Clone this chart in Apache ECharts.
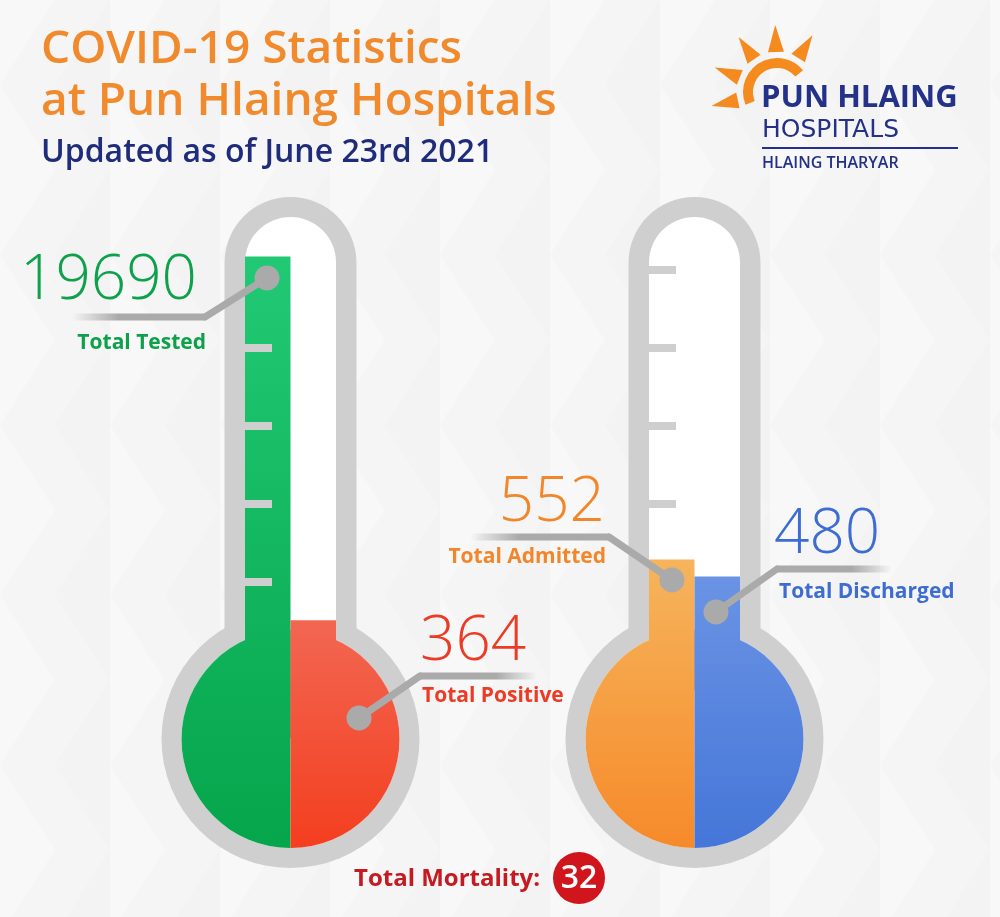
<!DOCTYPE html>
<html>
<meta charset="UTF-8">
<title>covid-thermometers</title>
<style type="text/css">
    html,
    body {
        margin: 0px;
        height: 100%;
        width: 100%;
        background: #f5f5f5;
    }

    #chart {
        width: 1000px;
        height: 917px;
    }
</style>
<script src="https://cdn.jsdelivr.net/npm/echarts@6/dist/echarts.min.js"></script>

<body>
    <div id="chart"></div>
    <script>
        // data
        const testCategories = ['Total Tested', 'Total Positive'];
        const testValues = [19690, 364];
        const wardCategories = ['Total Admitted', 'Total Discharged'];
        const wardValues = [552, 480];
        const mortalityLabel = 'Total Mortality:';
        const mortalityValue = 32;
        // gauge marks on the tubes (levels of the mark axis, 0..7)
        const tickLevelsTests = [2, 3, 4, 5];
        const tickLevelsWards = [3, 4, 5, 6];

        // layout + style
        const WALL = '#cfcfcf';
        const LEAD = '#aaaaaa';
        const FONT = 'Open Sans';
        const centers = [290.5, 694.5];
        const BULB_Y = 739;
        const palette = [
            [['#22c974', '#05a54b'], ['#f26752', '#f43e1f']],
            [['#f6b45c', '#f68a2a'], ['#6a93e4', '#4576d8']]
        ];
        const textColors = [['#0ea14c', '#ec3b25'], ['#f2862a', '#3d6dd3']];

        function vgrad(top, bottom, c) {
            return new echarts.graphic.LinearGradient(0, top, 0, bottom, [
                { offset: 0, color: c[0] },
                { offset: 1, color: c[1] }
            ], true);
        }

        const fills = [
            [vgrad(255, 848, palette[0][0]), vgrad(620, 848, palette[0][1])],
            [vgrad(560, 848, palette[1][0]), vgrad(577, 848, palette[1][1])]
        ];

        // faint chevron backdrop
        function backdrop() {
            const els = [];
            for (let x = 0; x < 1000; x += 110) {
                for (let y = -85; y < 917; y += 170) {
                    els.push({
                        type: 'polygon', z: -10, silent: true,
                        shape: { points: [[x, y], [x + 55, y + 85], [x, y + 170]] },
                        style: { fill: '#f8f8f8' }
                    });
                    els.push({
                        type: 'polygon', z: -10, silent: true,
                        shape: { points: [[x + 110, y + 85], [x + 55, y + 170], [x + 110, y + 255]] },
                        style: { fill: '#f3f3f3' }
                    });
                }
            }
            return els;
        }

        function body(cx, i) {
            return [
                { type: 'rect', z: 0, silent: true, shape: { x: cx - 66, y: 197, width: 132, height: BULB_Y - 197, r: [66, 66, 0, 0] }, style: { fill: WALL } },
                { type: 'circle', z: 0, silent: true, shape: { cx: cx, cy: BULB_Y, r: 129 }, style: { fill: WALL } },
                { type: 'rect', z: 1, silent: true, shape: { x: cx - 45.5, y: 217, width: 91, height: BULB_Y - 217, r: [45.5, 45.5, 0, 0] }, style: { fill: '#ffffff' } },
                { type: 'circle', z: 1, silent: true, shape: { cx: cx, cy: BULB_Y, r: 109 }, style: { fill: '#ffffff' } },
                { type: 'sector', z: 3, silent: true, shape: { cx: cx, cy: BULB_Y, r0: 0, r: 109, startAngle: Math.PI / 2, endAngle: Math.PI * 1.5 }, style: { fill: fills[i][0] } },
                { type: 'sector', z: 3, silent: true, shape: { cx: cx, cy: BULB_Y, r0: 0, r: 109, startAngle: -Math.PI / 2, endAngle: Math.PI / 2 }, style: { fill: fills[i][1] } }
            ];
        }

        const callouts = [
            { dot: [267, 278], elbow: [205, 317], end: [72, 317], num: [197, 281, 'right'], lab: [206, 343, 'right'], t: 0, k: 0 },
            { dot: [359, 718], elbow: [420, 676], end: [537, 676], num: [420, 642, 'left'], lab: [422, 696, 'left'], t: 0, k: 1 },
            { dot: [672, 580], elbow: [609, 537], end: [470, 537], num: [605, 503, 'right'], lab: [606, 557, 'right'], t: 1, k: 0 },
            { dot: [716, 612], elbow: [777, 569], end: [892, 569], num: [774, 535, 'left'], lab: [779, 592, 'left'], t: 1, k: 1 }
        ];
        const calloutValues = [testValues, wardValues];
        const calloutNames = [testCategories, wardCategories];

        function callout(c) {
            const x0 = c.elbow[0], x1 = c.end[0];
            const color = textColors[c.t][c.k];
            return [
                {
                    type: 'line', z: 10, silent: true, shape: { x1: x0, y1: c.elbow[1], x2: x1, y2: c.end[1] },
                    style: {
                        lineWidth: 7,
                        stroke: new echarts.graphic.LinearGradient(x0, 0, x1, 0, [
                            { offset: 0, color: LEAD }, { offset: 0.65, color: LEAD }, { offset: 1, color: 'rgba(170,170,170,0)' }
                        ], true)
                    }
                },
                { type: 'line', z: 10, silent: true, shape: { x1: c.dot[0], y1: c.dot[1], x2: x0, y2: c.elbow[1] }, style: { lineWidth: 7, stroke: LEAD, lineCap: 'round' } },
                { type: 'circle', z: 11, silent: true, shape: { cx: c.dot[0], cy: c.dot[1], r: 12.5 }, style: { fill: LEAD } },
                {
                    type: 'text', z: 11, x: c.num[0], y: c.num[1],
                    style: { text: String(calloutValues[c.t][c.k]), font: '300 62px "' + FONT + '"', fill: color, align: c.num[2], verticalAlign: 'middle' }
                },
                {
                    type: 'text', z: 11, x: c.lab[0], y: c.lab[1],
                    style: { text: calloutNames[c.t][c.k], font: 'bold 21px "' + FONT + '"', fill: color, align: c.lab[2], verticalAlign: 'middle' }
                }
            ];
        }

        // sun logo
        function logo() {
            const cx = 777, cy = 92, els = [];
            [58, 91.5, 125, 158.5, 192].forEach(function (deg) {
                const a = deg * Math.PI / 180, p = a + Math.PI / 2;
                const bx = cx + 40 * Math.cos(a), by = cy - 40 * Math.sin(a);
                els.push({
                    type: 'polygon', silent: true, shape: {
                        points: [
                            [bx + 8 * Math.cos(p), by - 8 * Math.sin(p)],
                            [cx + 67 * Math.cos(a), cy - 67 * Math.sin(a)],
                            [bx - 8 * Math.cos(p), by + 8 * Math.sin(p)]
                        ]
                    }, style: { fill: '#f58a1f' }
                });
            });
            els.push({ type: 'sector', silent: true, shape: { cx: cx, cy: cy, r0: 24, r: 34, startAngle: 158 * Math.PI / 180, endAngle: 320 * Math.PI / 180 }, style: { fill: '#f58a1f' } });
            els.push({ type: 'text', x: 761, y: 98, style: { text: 'PUN HLAING', font: 'bold 31px "' + FONT + '"', fill: '#233189', verticalAlign: 'middle' } });
            els.push({ type: 'text', x: 762, y: 130, style: { text: 'HOSPITALS', font: '25px "DejaVu Sans"', fill: '#233189', verticalAlign: 'middle' } });
            els.push({ type: 'rect', silent: true, shape: { x: 762, y: 147, width: 196, height: 2 }, style: { fill: '#233189' } });
            els.push({ type: 'text', x: 762, y: 163, style: { text: 'HLAING THARYAR', font: '600 16px "' + FONT + '"', fill: '#233189', verticalAlign: 'middle' } });
            return els;
        }

        const markAxis = function (grid, levels) {
            return {
                gridIndex: grid, type: 'value', min: 0, max: 7, z: 4, position: 'left',
                axisLine: { show: false }, axisLabel: { show: false }, splitLine: { show: false },
                axisTick: { show: true, inside: true, length: 27, customValues: levels, lineStyle: { color: WALL, width: 8 } }
            };
        };

        const chart = echarts.init(document.getElementById('chart'));
        const options = {
            backgroundColor: '#f5f5f5',
            animation: false,
            title: {
                left: 36, top: 19,
                text: 'COVID-19 Statistics\nat Pun Hlaing Hospitals',
                textStyle: { fontFamily: FONT, fontWeight: 600, fontSize: 46, lineHeight: 52, color: '#f18a2c' },
                subtext: 'Updated as of June 23rd 2021',
                subtextStyle: { fontFamily: FONT, fontWeight: 600, fontSize: 32, color: '#1f2b7b' },
                itemGap: 9
            },
            grid: centers.map(function (cx) {
                return { left: cx - 45.5, width: 91, top: 192, height: 546 };
            }),
            xAxis: [
                { gridIndex: 0, type: 'category', data: testCategories, show: false },
                { gridIndex: 1, type: 'category', data: wardCategories, show: false }
            ],
            yAxis: [
                { gridIndex: 0, type: 'log', min: 100, max: 40000, show: false, position: 'right' },
                markAxis(0, tickLevelsTests),
                { gridIndex: 1, type: 'value', min: -200, max: 2100, show: false, position: 'right' },
                markAxis(1, tickLevelsWards)
            ],
            series: [
                {
                    type: 'bar', xAxisIndex: 0, yAxisIndex: 0, barWidth: '100%', clip: true, silent: true, z: 2,
                    data: testValues.map(function (v, i) { return { value: v, itemStyle: { color: fills[0][i] } }; })
                },
                {
                    type: 'bar', xAxisIndex: 1, yAxisIndex: 2, barWidth: '100%', clip: true, silent: true, z: 2,
                    data: wardValues.map(function (v, i) { return { value: v, itemStyle: { color: fills[1][i] } }; })
                }
            ],
            graphic: [].concat(
                backdrop(),
                body(centers[0], 0),
                body(centers[1], 1),
                callouts.map(callout).reduce(function (a, b) { return a.concat(b); }, []),
                logo(),
                [
                    { type: 'text', x: 354, y: 879, style: { text: mortalityLabel, font: 'bold 24px "' + FONT + '"', fill: '#c41a21', verticalAlign: 'middle' } },
                    { type: 'circle', shape: { cx: 579, cy: 878, r: 26 }, style: { fill: '#d0151c' } },
                    { type: 'text', x: 579, y: 879, style: { text: String(mortalityValue), font: '600 32px "' + FONT + '"', fill: '#ffffff', align: 'center', verticalAlign: 'middle' } }
                ]
            )
        };
        chart.setOption(options);
    </script>
</body>

</html>
